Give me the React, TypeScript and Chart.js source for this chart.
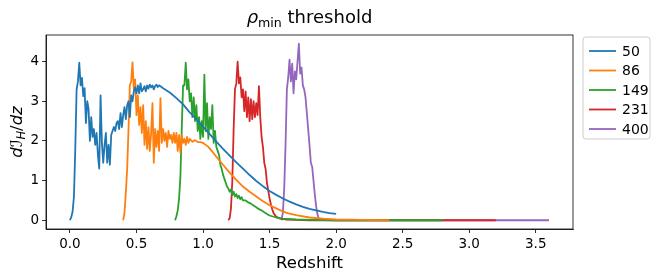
import React, { useEffect, useRef } from 'react';
import { Chart, registerables } from 'chart.js';

Chart.register(...registerables);

const seriesLabels = ['50', '86', '149', '231', '400'];
const seriesColors = ['#1f77b4', '#ff7f0e', '#2ca02c', '#d62728', '#9467bd'];
const xTicks = [0, 0.5, 1, 1.5, 2, 2.5, 3, 3.5];
const yTicks = [0, 1, 2, 3, 4];

// [redshift, dI_H/dz]
const s50: [number, number][] = [
  [0.00, 0.0], [0.01, 0.08], [0.02, 0.22], [0.03, 0.6], [0.04, 1.8], [0.05, 3.3], [0.06, 3.5], [0.07, 3.97],
  [0.08, 3.4], [0.09, 3.59], [0.10, 3.13], [0.11, 3.33], [0.12, 2.45], [0.13, 3.0], [0.14, 2.8], [0.15, 2.0],
  [0.16, 2.6], [0.17, 2.1], [0.18, 2.3], [0.19, 1.9], [0.20, 2.2], [0.21, 1.65], [0.22, 1.3], [0.23, 3.15],
  [0.24, 1.95], [0.25, 1.45], [0.26, 1.9], [0.27, 2.2], [0.28, 1.45], [0.29, 1.9], [0.30, 1.4], [0.31, 2.15],
  [0.32, 2.25], [0.33, 2.35], [0.34, 2.25], [0.35, 2.45], [0.36, 2.5], [0.37, 2.3], [0.38, 2.7], [0.39, 2.35],
  [0.40, 2.65], [0.41, 2.85], [0.42, 2.55], [0.43, 2.9], [0.44, 3.0], [0.45, 2.6], [0.46, 3.15], [0.47, 3.0],
  [0.48, 3.25], [0.49, 3.35], [0.50, 3.2], [0.51, 3.4], [0.52, 3.2], [0.53, 3.45], [0.54, 3.25], [0.55, 3.3],
  [0.56, 3.38], [0.57, 3.25], [0.58, 3.4], [0.59, 3.32], [0.60, 3.42], [0.61, 3.35], [0.62, 3.4], [0.63, 3.3],
  [0.64, 3.38], [0.65, 3.42], [0.66, 3.36], [0.67, 3.4], [0.68, 3.38], [0.70, 3.33], [0.75, 3.22], [0.80, 3.08],
  [0.85, 2.92], [0.90, 2.72], [0.95, 2.55], [1.00, 2.36], [1.05, 2.17], [1.10, 1.98], [1.15, 1.8], [1.20, 1.63],
  [1.25, 1.46], [1.30, 1.3], [1.35, 1.14], [1.40, 0.99], [1.45, 0.86], [1.50, 0.74], [1.55, 0.64], [1.60, 0.55],
  [1.65, 0.47], [1.70, 0.4], [1.75, 0.34], [1.80, 0.29], [1.85, 0.25], [1.90, 0.21], [1.95, 0.18], [2.00, 0.16],
];

const s86: [number, number][] = [
  [0.40, 0.0], [0.41, 0.2], [0.42, 0.7], [0.43, 1.3], [0.44, 2.3], [0.45, 3.4], [0.46, 3.5], [0.47, 3.98],
  [0.48, 3.3], [0.49, 3.55], [0.50, 2.65], [0.51, 3.15], [0.52, 2.4], [0.53, 2.85], [0.54, 2.2], [0.55, 2.9],
  [0.56, 1.9], [0.57, 2.5], [0.58, 1.8], [0.59, 2.35], [0.60, 1.75], [0.61, 2.2], [0.62, 2.95], [0.63, 1.45],
  [0.64, 2.3], [0.65, 1.85], [0.66, 2.25], [0.67, 1.75], [0.68, 3.08], [0.69, 1.95], [0.70, 2.3], [0.71, 2.0],
  [0.72, 2.2], [0.73, 1.85], [0.74, 2.25], [0.75, 2.05], [0.76, 2.15], [0.77, 1.95], [0.78, 2.2], [0.79, 1.95],
  [0.80, 2.2], [0.81, 1.75], [0.82, 2.15], [0.83, 1.7], [0.84, 2.15], [0.85, 1.95], [0.86, 2.05], [0.87, 1.9],
  [0.88, 2.1], [0.89, 1.95], [0.90, 2.05], [0.92, 1.98], [0.94, 2.02], [0.96, 1.97], [0.98, 1.97], [1.00, 1.95],
  [1.02, 1.9], [1.04, 1.85], [1.06, 1.77], [1.08, 1.69], [1.10, 1.6], [1.15, 1.4], [1.20, 1.2], [1.25, 1.02],
  [1.30, 0.85], [1.35, 0.72], [1.40, 0.6], [1.45, 0.48], [1.50, 0.38], [1.55, 0.3], [1.60, 0.22], [1.65, 0.17],
  [1.70, 0.13], [1.80, 0.07], [1.90, 0.04], [2.00, 0.02], [2.20, 0.01], [2.40, 0.0],
];

const s149: [number, number][] = [
  [0.79, 0.0], [0.80, 0.1], [0.81, 0.25], [0.82, 0.55], [0.83, 1.1], [0.84, 2.3], [0.85, 3.4], [0.86, 3.4],
  [0.87, 3.97], [0.88, 3.3], [0.89, 3.55], [0.90, 3.0], [0.91, 3.2], [0.92, 2.6], [0.93, 3.1], [0.94, 2.5],
  [0.95, 2.9], [0.96, 2.25], [0.97, 2.6], [0.98, 2.05], [0.99, 2.5], [1.00, 2.1], [1.01, 3.67], [1.02, 2.25],
  [1.03, 2.95], [1.04, 2.05], [1.05, 2.6], [1.06, 2.3], [1.07, 2.9], [1.08, 1.95], [1.09, 2.25], [1.10, 1.85],
  [1.11, 1.75], [1.12, 1.65], [1.13, 1.4], [1.14, 1.3], [1.15, 1.15], [1.16, 1.05], [1.17, 0.95], [1.18, 0.85],
  [1.19, 0.8], [1.20, 0.72], [1.21, 0.78], [1.22, 0.63], [1.23, 0.72], [1.24, 0.6], [1.25, 0.66], [1.26, 0.56],
  [1.27, 0.62], [1.28, 0.53], [1.29, 0.58], [1.30, 0.5], [1.32, 0.5], [1.34, 0.45], [1.36, 0.42], [1.38, 0.37],
  [1.40, 0.33], [1.42, 0.28], [1.44, 0.25], [1.46, 0.2], [1.48, 0.16], [1.50, 0.12], [1.55, 0.07], [1.60, 0.04],
  [1.70, 0.02], [1.80, 0.01], [2.00, 0.0], [2.80, 0.0],
];

const s231: [number, number][] = [
  [1.19, 0.0], [1.20, 0.05], [1.21, 0.3], [1.22, 1.0], [1.23, 2.3], [1.24, 3.3], [1.25, 3.45], [1.26, 4.0],
  [1.27, 3.45], [1.28, 3.6], [1.29, 3.1], [1.30, 3.3], [1.31, 2.75], [1.32, 3.25], [1.33, 2.6], [1.34, 3.1],
  [1.35, 2.5], [1.36, 3.05], [1.37, 2.55], [1.38, 3.0], [1.39, 2.6], [1.40, 2.95], [1.41, 2.65], [1.42, 3.38],
  [1.43, 2.6], [1.44, 2.1], [1.45, 1.85], [1.46, 1.45], [1.47, 1.3], [1.48, 0.95], [1.49, 0.75], [1.50, 0.55],
  [1.51, 0.4], [1.52, 0.28], [1.53, 0.18], [1.55, 0.09], [1.58, 0.04], [1.62, 0.02], [1.70, 0.01], [1.80, 0.0],
  [3.20, 0.0],
];

const s400: [number, number][] = [
  [1.59, 0.0], [1.60, 0.2], [1.61, 0.8], [1.62, 1.9], [1.63, 3.3], [1.64, 3.6], [1.65, 4.05], [1.66, 3.5],
  [1.67, 3.95], [1.68, 3.2], [1.69, 3.75], [1.70, 3.55], [1.71, 4.0], [1.72, 4.45], [1.73, 3.7], [1.74, 3.85],
  [1.75, 3.4], [1.76, 3.3], [1.77, 3.1], [1.78, 2.7], [1.79, 2.3], [1.80, 1.9], [1.81, 1.45], [1.82, 1.35],
  [1.83, 1.0], [1.84, 0.65], [1.85, 0.35], [1.86, 0.15], [1.87, 0.04], [1.90, 0.01], [2.00, 0.0], [3.60, 0.0],
];

const allSeries = [s50, s86, s149, s231, s400];

const FONT = '"DejaVu Sans", sans-serif';

type Run = { text: string; size: number; italic?: boolean; dy?: number };

function drawRuns(ctx: CanvasRenderingContext2D, runs: Run[], x: number, y: number) {
  let total = 0;
  const widths: number[] = [];
  for (const r of runs) {
    ctx.font = `${r.italic ? 'italic ' : ''}${r.size}px ${FONT}`;
    const w = ctx.measureText(r.text).width;
    widths.push(w);
    total += w;
  }
  let cx = x - total / 2;
  runs.forEach((r, i) => {
    ctx.font = `${r.italic ? 'italic ' : ''}${r.size}px ${FONT}`;
    ctx.fillText(r.text, cx, y + (r.dy || 0));
    cx += widths[i];
  });
}

const decorPlugin = {
  id: 'mplDecor',
  afterDraw(chart: any) {
    const { ctx, chartArea: a } = chart;
    ctx.save();
    ctx.strokeStyle = '#000';
    ctx.lineWidth = 0.8;
    ctx.strokeRect(a.left, a.top, a.right - a.left, a.bottom - a.top);

    ctx.fillStyle = '#000';
    ctx.textBaseline = 'alphabetic';
    ctx.textAlign = 'left';
    const cxm = (a.left + a.right) / 2;
    // Title
    drawRuns(ctx, [
      { text: 'ρ', size: 18, italic: true },
      { text: 'min', size: 12.6, dy: 3.5 },
      { text: ' threshold', size: 18 },
    ], cxm, 23);

    // x label
    drawRuns(ctx, [{ text: 'Redshift', size: 16.5 }], cxm, 268);

    // y label
    ctx.save();
    ctx.translate(22, (a.top + a.bottom) / 2);
    ctx.rotate(-Math.PI / 2);
    drawRuns(ctx, [
      { text: 'd', size: 16.5, italic: true },
      { text: 'ℐ', size: 16.5 },
      { text: 'H', size: 11.5, italic: true, dy: 3 },
      { text: '/', size: 16.5 },
      { text: 'dz', size: 16.5, italic: true },
    ], 0, 0);
    ctx.restore();

    // Legend
    const lx = 583, ly = 37, lw = 67, lh = 102;
    ctx.beginPath();
    const r = 3;
    ctx.moveTo(lx + r, ly);
    ctx.arcTo(lx + lw, ly, lx + lw, ly + lh, r);
    ctx.arcTo(lx + lw, ly + lh, lx, ly + lh, r);
    ctx.arcTo(lx, ly + lh, lx, ly, r);
    ctx.arcTo(lx, ly, lx + lw, ly, r);
    ctx.closePath();
    ctx.fillStyle = 'rgba(255,255,255,0.8)';
    ctx.fill();
    ctx.strokeStyle = '#cccccc';
    ctx.lineWidth = 1;
    ctx.stroke();

    ctx.font = `14px ${FONT}`;
    ctx.textBaseline = 'middle';
    seriesLabels.forEach((lab, i) => {
      const yy = ly + 14 + i * 19.5;
      ctx.strokeStyle = seriesColors[i];
      ctx.lineWidth = 1.8;
      ctx.beginPath();
      ctx.moveTo(lx + 6, yy);
      ctx.lineTo(lx + 33, yy);
      ctx.stroke();
      ctx.fillStyle = '#000';
      ctx.fillText(lab, lx + 39, yy + 1);
    });
    ctx.restore();
  },
};

export default function App() {
  const ref = useRef<HTMLCanvasElement | null>(null);
  useEffect(() => {
    if (!ref.current) return;
    const tickFont = { family: FONT, size: 13.5 };
    const chart = new Chart(ref.current, {
      type: 'line',
      data: {
        datasets: allSeries.map((s, i) => ({
          label: seriesLabels[i],
          data: s.map(([x, y]) => ({ x, y })),
          borderColor: seriesColors[i],
          backgroundColor: seriesColors[i],
          borderWidth: 1.8,
          pointRadius: 0,
          tension: 0,
          fill: false,
          borderJoinStyle: 'round' as const,
        })),
      },
      options: {
        animation: false,
        responsive: false,
        devicePixelRatio: 1,
        layout: { padding: { top: 35, right: 91, left: 0, bottom: 0 } },
        plugins: { legend: { display: false }, title: { display: false }, tooltip: { enabled: false } },
        scales: {
          x: {
            type: 'linear',
            min: -0.18,
            max: 3.78,
            afterBuildTicks: (s: any) => { s.ticks = xTicks.map((v) => ({ value: v })); },
            afterFit: (s: any) => { s.height = 51; },
            ticks: { font: tickFont, color: '#000', padding: 3, maxRotation: 0, callback: (v: any) => Number(v).toFixed(1) },
            grid: { drawOnChartArea: false, drawTicks: true, tickLength: 4, color: '#000', lineWidth: 0.8 },
            border: { display: true, color: '#000', width: 0.8 },
          },
          y: {
            type: 'linear',
            min: -0.22,
            max: 4.67,
            afterBuildTicks: (s: any) => { s.ticks = yTicks.map((v) => ({ value: v })); },
            afterFit: (s: any) => { s.width = 46; },
            ticks: { font: tickFont, color: '#000', padding: 3, callback: (v: any) => String(v) },
            grid: { drawOnChartArea: false, drawTicks: true, tickLength: 4, color: '#000', lineWidth: 0.8 },
            border: { display: true, color: '#000', width: 0.8 },
          },
        },
      },
      plugins: [decorPlugin],
    });
    return () => chart.destroy();
  }, []);
  return (
    <div style={{ position: 'absolute', left: 0, top: 0, width: 664, height: 280, background: '#fff' }}>
      <canvas ref={ref} width={664} height={280} />
    </div>
  );
}
